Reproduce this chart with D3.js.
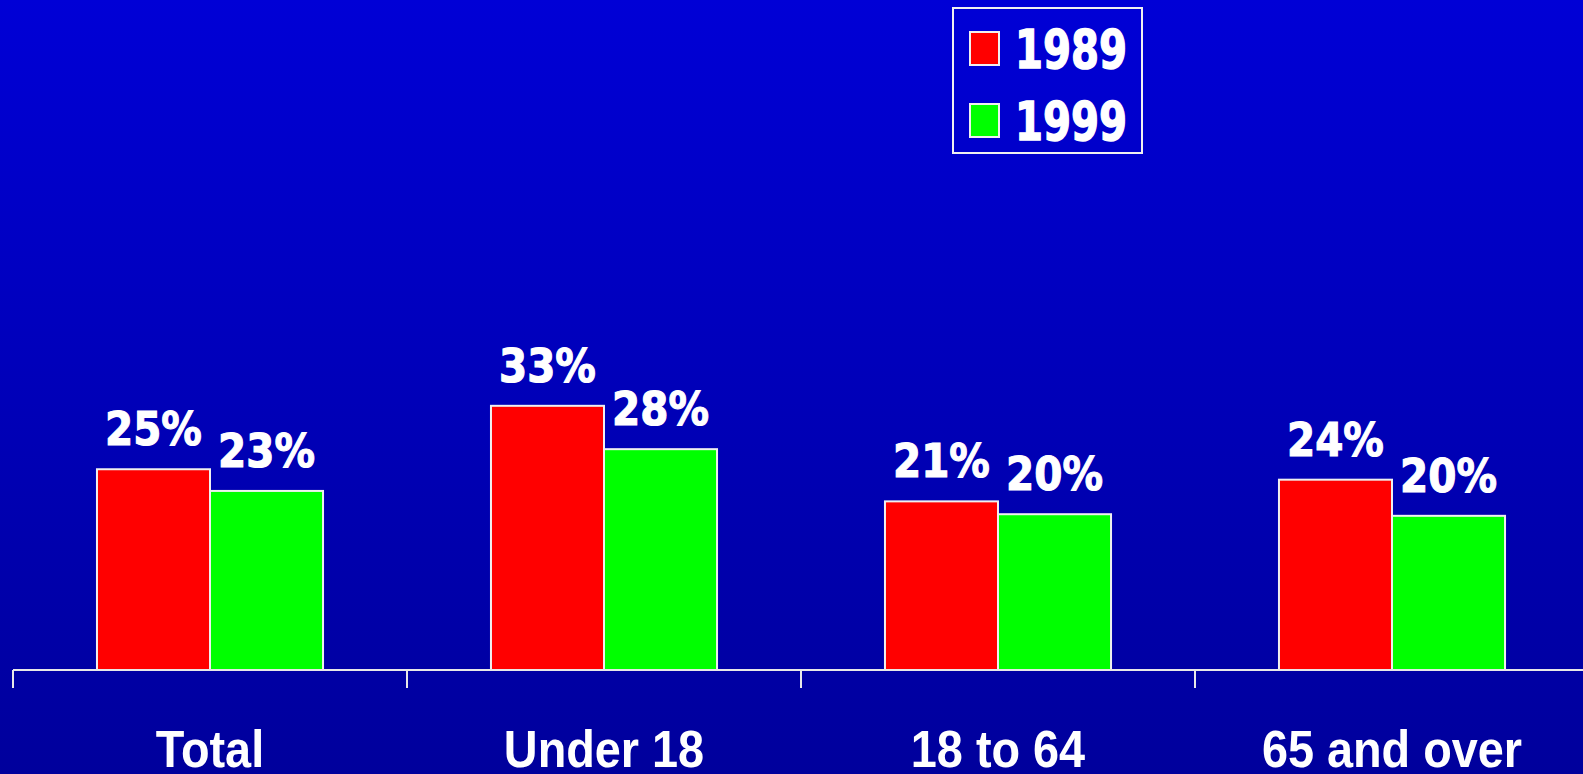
<!DOCTYPE html>
<html>
<head>
<meta charset="utf-8">
<script src="https://cdn.jsdelivr.net/npm/d3@7"></script>
<style>
html,body{margin:0;padding:0;overflow:hidden;}
svg{display:block;}
</style>
</head>
<body>
<svg id="chart" width="1583" height="774"></svg>
<script>
// ---- data ----
const categories = ["Total", "Under 18", "18 to 64", "65 and over"];
const seriesNames = ["1989", "1999"];
const values1989 = [25.0, 32.9, 21.0, 23.7];
const values1999 = [22.3, 27.5, 19.4, 19.2];
const labels1989 = ["25%", "33%", "21%", "24%"];
const labels1999 = ["23%", "28%", "20%", "20%"];
const seriesColors = ["#FF0000", "#00FF00"];

const W = 1583, H = 774;
const svg = d3.select("#chart");

// background gradient
const defs = svg.append("defs");
const grad = defs.append("linearGradient").attr("id", "bg")
  .attr("x1", 0).attr("y1", 0).attr("x2", 0).attr("y2", 1);
grad.append("stop").attr("offset", "0%").attr("stop-color", "#0000D6");
grad.append("stop").attr("offset", "100%").attr("stop-color", "#00009C");
svg.append("rect").attr("width", W).attr("height", H).attr("fill", "url(#bg)");

const baseY = 670;
const x0 = d3.scaleBand().domain(categories).range([13, 13 + 4 * 394]).paddingInner(0).paddingOuter(0);
const x1 = d3.scaleBand().domain(seriesNames).range([0, x0.bandwidth()]).paddingInner(0).paddingOuter(0.743);
const y = d3.scaleLinear().domain([0, 80]).range([baseY, baseY - 80 * 8.03]);

const rows = categories.map((c, i) => ({
  cat: c,
  items: [
    { s: seriesNames[0], v: values1989[i], label: labels1989[i], color: seriesColors[0] },
    { s: seriesNames[1], v: values1999[i], label: labels1999[i], color: seriesColors[1] }
  ]
}));

function squeeze(sel, factor) {
  sel.each(function () {
    const n = this.getComputedTextLength();
    d3.select(this).attr("textLength", n * factor).attr("lengthAdjust", "spacingAndGlyphs");
  });
}

const g = svg.append("g");
const groups = g.selectAll("g.cat").data(rows).join("g")
  .attr("class", "cat")
  .attr("transform", d => `translate(${x0(d.cat)},0)`);

groups.selectAll("rect").data(d => d.items).join("rect")
  .attr("x", d => x1(d.s))
  .attr("y", d => y(d.v))
  .attr("width", x1.bandwidth())
  .attr("height", d => y(0) - y(d.v))
  .attr("fill", d => d.color)
  .attr("stroke", "#F0F0F0")
  .attr("stroke-width", 2);

const vl = groups.selectAll("text.val").data(d => d.items).join("text")
  .attr("class", "val")
  .attr("x", d => x1(d.s) + x1.bandwidth() / 2)
  .attr("y", d => y(d.v) - 24)
  .attr("text-anchor", "middle")
  .attr("fill", "#FFFFFF")
  .attr("stroke", "#FFFFFF")
  .attr("stroke-width", 1.2)
  .attr("font-family", "'DejaVu Sans', Verdana, sans-serif")
  .attr("font-weight", "bold")
  .attr("font-size", 46)
  .text(d => d.label);
squeeze(vl, 0.88);

// axis
const axis = d3.axisBottom(x0).tickSize(0).tickFormat("");
const axG = svg.append("g").attr("transform", `translate(0,${baseY})`).call(axis);
axG.select(".domain").attr("stroke", "#E8E8E8").attr("stroke-width", 2).attr("d", `M13,0H${W}`);
axG.selectAll(".tick").remove();
axG.selectAll("line.tk").data(categories).join("line")
  .attr("class", "tk")
  .attr("x1", d => x0(d)).attr("x2", d => x0(d))
  .attr("y1", 0).attr("y2", 18)
  .attr("stroke", "#E8E8E8").attr("stroke-width", 2);

const cl = svg.append("g").selectAll("text").data(categories).join("text")
  .attr("x", d => x0(d) + x0.bandwidth() / 2)
  .attr("y", 767)
  .attr("text-anchor", "middle")
  .attr("fill", "#FFFFFF")
  .attr("font-family", "'Liberation Sans', Arial, sans-serif")
  .attr("font-weight", "bold")
  .attr("font-size", 52)
  .text(d => d);
squeeze(cl, 0.9);

// legend
const lg = svg.append("g");
lg.append("rect").attr("x", 953).attr("y", 8).attr("width", 189).attr("height", 145)
  .attr("fill", "none").attr("stroke", "#F0F0F0").attr("stroke-width", 2);
const li = lg.selectAll("g.li").data(seriesNames).join("g")
  .attr("class", "li")
  .attr("transform", (d, i) => `translate(0,${i * 72})`);
li.append("rect").attr("x", 970).attr("y", 32).attr("width", 29).attr("height", 33)
  .attr("fill", (d, i) => seriesColors[i]).attr("stroke", "#F0F0F0").attr("stroke-width", 2);
const lt = li.append("text").attr("x", 1015).attr("y", 68)
  .attr("fill", "#FFFFFF")
  .attr("stroke", "#FFFFFF")
  .attr("stroke-width", 1.5)
  .attr("font-family", "'DejaVu Sans', Verdana, sans-serif")
  .attr("font-weight", "bold")
  .attr("font-size", 54)
  .text(d => d);
lt.attr("textLength", 112).attr("lengthAdjust", "spacingAndGlyphs");
</script>
</body>
</html>
